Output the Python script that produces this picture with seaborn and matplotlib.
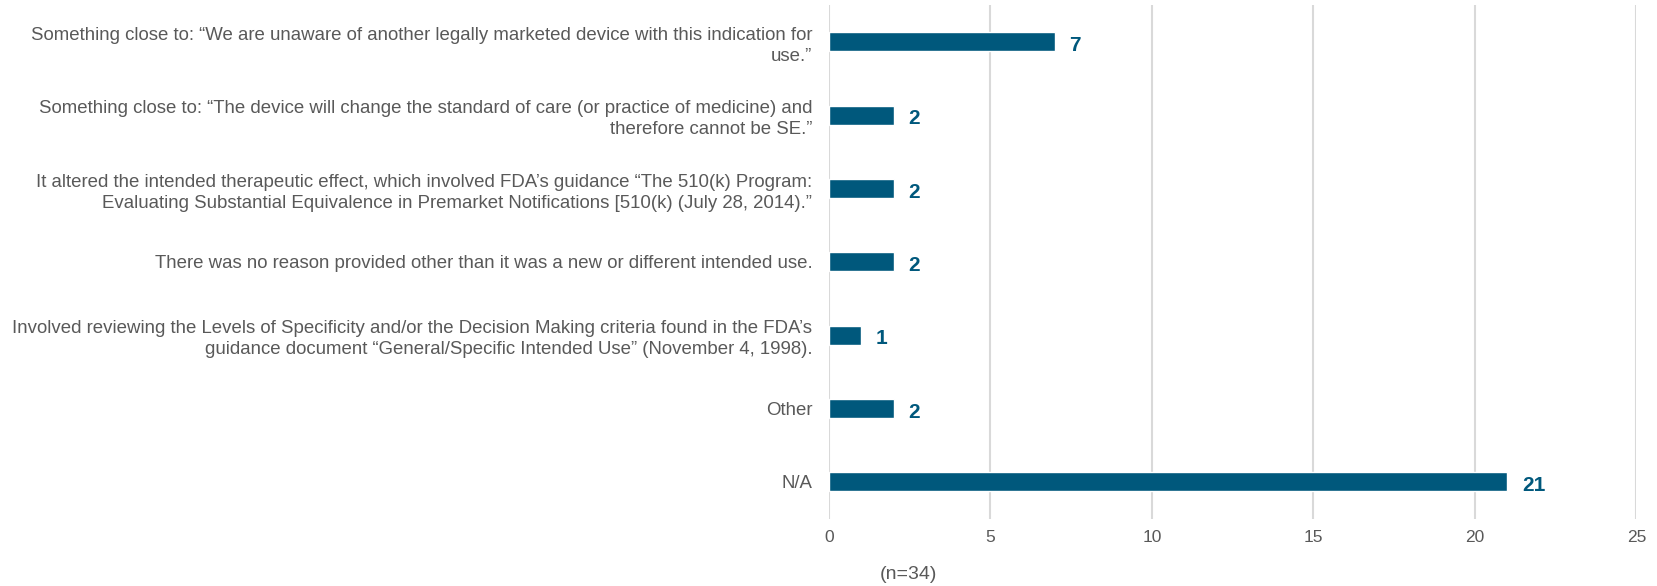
import pandas as pd
import matplotlib
matplotlib.use("Agg")
import matplotlib.pyplot as plt
import seaborn as sns

# reasons given for the new/different intended use finding
reasons = [
    "Something close to: \u201cWe are unaware of another legally marketed device with this indication for\nuse.\u201d",
    "Something close to: \u201cThe device will change the standard of care (or practice of medicine) and\ntherefore cannot be SE.\u201d",
    "It altered the intended therapeutic effect, which involved FDA\u2019s guidance \u201cThe 510(k) Program:\nEvaluating Substantial Equivalence in Premarket Notifications [510(k) (July 28, 2014).\u201d",
    "There was no reason provided other than it was a new or different intended use.",
    "Involved reviewing the Levels of Specificity and/or the Decision Making criteria found in the FDA\u2019s\nguidance document \u201cGeneral/Specific Intended Use\u201d (November 4, 1998).",
    "Other",
    "N/A",
]
counts = [7, 2, 2, 2, 1, 2, 21]
xticks = [0, 5, 10, 15, 20, 25]

df = pd.DataFrame({"reason": reasons, "count": counts})

sns.set_style("white")
plt.rcParams["font.family"] = ["Liberation Sans", "DejaVu Sans"]

bar_col = "#00587c"
txt_col = "#595959"

fig = plt.figure(figsize=(16.58, 5.86), dpi=100)
ax = fig.add_axes([0.5, 0.115, 0.487, 0.876])

sns.barplot(data=df, x="count", y="reason", color=bar_col, saturation=1,
            width=0.26, ax=ax, orient="h")

for i, v in enumerate(counts):
    ax.text(v + 0.45, i + 0.05, str(v), va="center", ha="left",
            fontsize=15, fontweight="bold", color=bar_col)

ax.set_xlim(0, 25)
ax.set_ylim(6.5, -0.5)
ax.set_xticks(xticks)
ax.xaxis.grid(True, color="#d9d9d9", linewidth=1.5)
ax.set_axisbelow(True)
for s in ax.spines.values():
    s.set_visible(False)
ax.set_xlabel("")
ax.set_ylabel("")
ax.tick_params(axis="y", length=0, pad=12, labelsize=13.4, labelcolor=txt_col)
ax.tick_params(axis="x", length=0, pad=8, labelsize=12.5, labelcolor=txt_col)
for lab in ax.get_yticklabels():
    lab.set_horizontalalignment("right")
    lab.set_multialignment("right")
    lab.set_linespacing(1.3)

fig.text(0.548, 0.012, "(n=34)", fontsize=14, color=txt_col, ha="center")

fig.savefig("out.png", dpi=100)
